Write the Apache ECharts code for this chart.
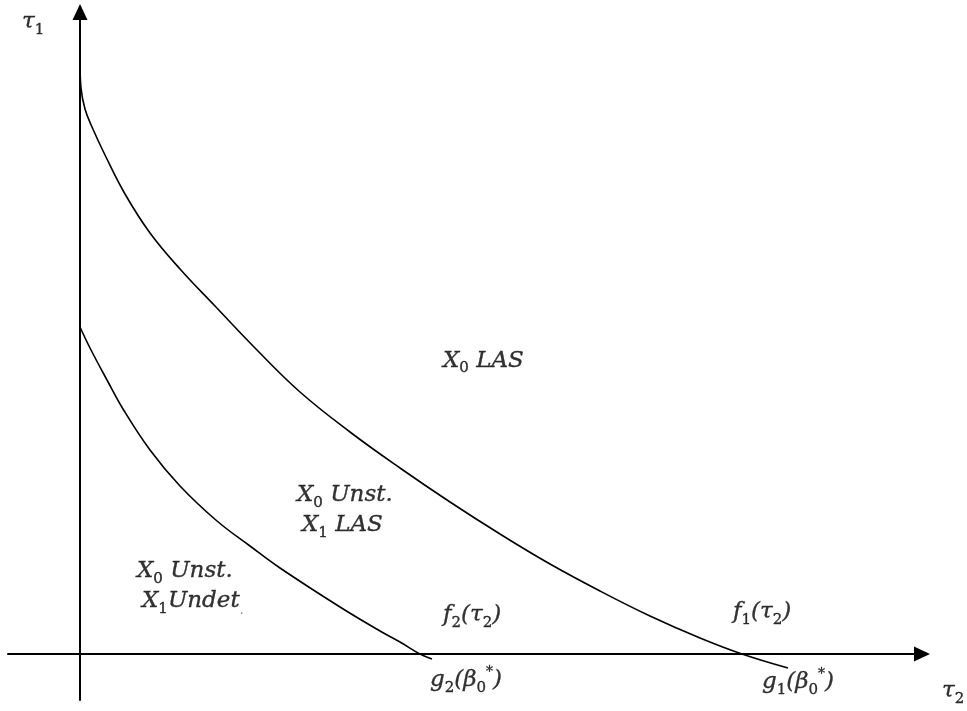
<!DOCTYPE html>
<html>
<head>
<meta charset="utf-8">
<style>html,body{margin:0;padding:0;background:#fff}#c{width:967px;height:711px}</style>
<script src="https://cdn.jsdelivr.net/npm/echarts@6/dist/echarts.min.js"></script>
</head>
<body>
<div id="c"></div>
<script>
// Outer boundary curve f1(tau2): tau2 values and tau1 values
const f1Tau2 = [0, 0.1, 0.5, 1.2, 2.5, 4.5, 7.0, 10.0, 13.5, 17.5, 22.0, 27.0, 32.0, 37.0, 42.0, 47.0, 52.0, 57.0, 62.0, 66.2, 70.8];
const f1Tau1 = [59.2, 56.6, 54.5, 52.7, 49.9, 46.0, 42.1, 38.5, 34.8, 30.6, 26.2, 22.2, 18.6, 15.2, 12.0, 9.0, 6.3, 3.8, 1.6, 0, -1.4];
// Inner boundary curve f2(tau2)
const f2Tau2 = [0, 1.0, 2.7, 4.3, 7.0, 10.0, 13.7, 17.0, 20.0, 26.0, 30.0, 32.0, 34.0, 35.2];
const f2Tau1 = [32.7, 30.6, 27.4, 24.5, 20.4, 16.8, 13.3, 10.8, 8.6, 4.7, 2.3, 1.2, 0, -0.5];

// Annotation texts (rich-text markup) and their anchor points in data units
const noteTexts = [
  '{m|X}{s|0}{m| LAS}',
  '{m|X}{s|0}{m| Unst.}\n{g| }{m|X}{s|1}{m| LAS}',
  '{m|X}{s|0}{m| Unst.}\n{g| }{m|X}{s|1}{m|Undet}{d|.}',
  '{m|f}{s|2}{m|(τ}{s|2}{m|)}',
  '{m|f}{s|1}{m|(τ}{s|2}{m|)}',
  '{m|g}{s|2}{m|(β}{s|0}{p|*}{m|)}',
  '{m|g}{s|1}{m|(β}{s|0}{p|*}{m|)}',
  '{m|τ}{s|1}',
  '{m|τ}{s|2}'
];
const noteTau2 = [36.3, 21.7, 5.7, 36.3, 65.3, 35.0, 68.2, -5.8, 86.2];
const noteTau1 = [30.8, 17.35, 9.75, 5.35, 5.65, -1.15, -1.35, 64.65, -2.25];

const curve = (xs, ys) => xs.map((x, i) => [x, ys[i]]);
const notes = noteTexts.map((t, i) => ({ value: [noteTau2[i], noteTau1[i]], text: t }));

const FONT = 'DejaVu Serif';
const ink = { color: '#000', textBorderColor: '#000', textBorderWidth: 0.35 };
const rich = {
  m: Object.assign({ fontFamily: FONT, fontStyle: 'italic', fontSize: 23, lineHeight: 30, verticalAlign: 'middle' }, ink),
  s: Object.assign({ fontFamily: FONT, fontStyle: 'normal', fontSize: 15, lineHeight: 16, verticalAlign: 'bottom' }, ink),
  p: Object.assign({ fontFamily: FONT, fontStyle: 'normal', fontSize: 14, lineHeight: 22, verticalAlign: 'top' }, ink),
  d: { fontFamily: FONT, fontStyle: 'normal', fontSize: 12, lineHeight: 16, color: '#666', verticalAlign: 'bottom' },
  g: { fontSize: 6, width: 5, lineHeight: 30 }
};

const chart = echarts.init(document.getElementById('c'), null, { renderer: 'canvas' });
const axisCommon = {
  type: 'value',
  axisLine: { show: true, onZero: true, symbol: ['none', 'triangle'], symbolSize: [15, 16], lineStyle: { color: '#000', width: 2 } },
  axisTick: { show: false },
  axisLabel: { show: false },
  splitLine: { show: false }
};
chart.setOption({
  animation: false,
  backgroundColor: '#fff',
  grid: { left: 8, right: 45, top: 12, bottom: 11 },
  xAxis: Object.assign({}, axisCommon, { min: -7.2, max: 84.2 }),
  yAxis: Object.assign({}, axisCommon, { min: -4.6, max: 64.2 }),
  series: [
    { type: 'line', data: curve(f1Tau2, f1Tau1), smooth: 0.4, showSymbol: false, clip: false,
      lineStyle: { color: '#000', width: 1.6 }, z: 3 },
    { type: 'line', data: curve(f2Tau2, f2Tau1), smooth: 0.4, showSymbol: false, clip: false,
      lineStyle: { color: '#000', width: 1.6 }, z: 3 },
    { type: 'scatter', data: notes, symbolSize: 0, clip: false, silent: true,
      label: { show: true, position: [0, 0], align: 'left', verticalAlign: 'top',
        formatter: p => p.data.text, rich: rich } }
  ]
});
</script>
</body>
</html>
